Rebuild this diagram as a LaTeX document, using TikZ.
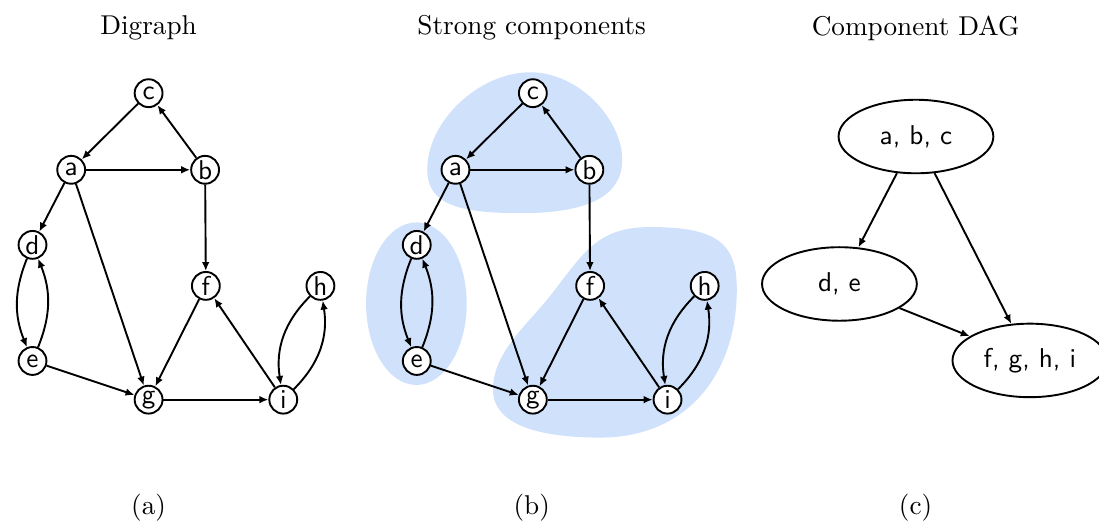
\documentclass[tikz,border=0pt]{standalone}
\usepackage{amsmath}
\usepackage{tikz}
\usetikzlibrary{arrows.meta,shapes.geometric}
\definecolor{sccblue}{RGB}{208,225,251}

\begin{document}
\begin{tikzpicture}[line width=0.7pt, >={Latex[length=3.3pt,width=2.8pt]},
    vertex/.style={circle, draw, fill=white, minimum size=0.36cm, inner sep=0pt, font=\sffamily},
    comp/.style={ellipse, draw, minimum width=2cm, minimum height=0.95cm, inner sep=0pt, font=\sffamily}]
    \useasboundingbox (0,0) rectangle (14.2,6.744);

    % Titles and captions
    \node (titleA) at (1.92,6.38) {Digraph};
    \node (titleB) at (6.87,6.38) {Strong components};
    \node (titleC) at (11.83,6.38) {Component DAG};
    \node (capA) at (1.92,0.18) {(a)};
    \node (capB) at (6.87,0.18) {(b)};
    \node (capC) at (11.83,0.18) {(c)};

    % Digraph (a)
    \node[vertex] (c1) at (1.92,5.54) {c};
    \node[vertex] (a1) at (0.92,4.55) {a};
    \node[vertex] (b1) at (2.65,4.55) {b};
    \node[vertex] (d1) at (0.42,3.58) {d};
    \node[vertex] (f1) at (2.66,3.05) {f};
    \node[vertex] (h1) at (4.14,3.05) {h};
    \node[vertex] (e1) at (0.42,2.08) {e};
    \node[vertex] (g1) at (1.92,1.58) {g};
    \node[vertex] (i1) at (3.66,1.58) {i};
    \draw[->] (c1) -- (a1);
    \draw[->] (a1) -- (b1);
    \draw[->] (b1) -- (c1);
    \draw[->] (a1) -- (d1);
    \draw[->] (a1) -- (g1);
    \draw[->] (b1) -- (f1);
    \draw[->] (d1) to[bend right=22] (e1);
    \draw[->] (e1) to[bend right=22] (d1);
    \draw[->] (e1) -- (g1);
    \draw[->] (f1) -- (g1);
    \draw[->] (g1) -- (i1);
    \draw[->] (i1) -- (f1);
    \draw[->] (h1) to[bend right=27] (i1);
    \draw[->] (i1) to[bend right=27] (h1);

    % Strong components (b)
    % component a, b, c
    \fill[sccblue] (5.52,4.55) .. controls (5.52,5.19) and (6.20,5.81) .. (6.85,5.81)
        .. controls (7.49,5.81) and (8.04,5.19) .. (8.04,4.68)
        .. controls (8.04,4.10) and (7.36,3.99) .. (6.72,3.99)
        .. controls (5.94,3.99) and (5.52,4.10) .. cycle;
    % component d, e
    \fill[sccblue] (5.38,2.82) ellipse (0.65 and 1.05);
    % component f, g, h, i
    \fill[sccblue] (8.40,3.81) .. controls (9.30,3.81) and (9.52,3.58) .. (9.52,3.00)
        .. controls (9.52,1.96) and (8.92,1.09) .. (7.75,1.09)
        .. controls (6.98,1.09) and (6.37,1.25) .. (6.37,1.71)
        .. controls (6.37,2.22) and (6.85,2.57) .. (7.17,3.00)
        .. controls (7.56,3.51) and (7.75,3.81) .. cycle;
    \node[vertex] (c2) at (6.885,5.54) {c};
    \node[vertex] (a2) at (5.885,4.55) {a};
    \node[vertex] (b2) at (7.615,4.55) {b};
    \node[vertex] (d2) at (5.385,3.58) {d};
    \node[vertex] (f2) at (7.625,3.05) {f};
    \node[vertex] (h2) at (9.105,3.05) {h};
    \node[vertex] (e2) at (5.385,2.08) {e};
    \node[vertex] (g2) at (6.885,1.58) {g};
    \node[vertex] (i2) at (8.625,1.58) {i};
    \draw[->] (c2) -- (a2);
    \draw[->] (a2) -- (b2);
    \draw[->] (b2) -- (c2);
    \draw[->] (a2) -- (d2);
    \draw[->] (a2) -- (g2);
    \draw[->] (b2) -- (f2);
    \draw[->] (d2) to[bend right=22] (e2);
    \draw[->] (e2) to[bend right=22] (d2);
    \draw[->] (e2) -- (g2);
    \draw[->] (f2) -- (g2);
    \draw[->] (g2) -- (i2);
    \draw[->] (i2) -- (f2);
    \draw[->] (h2) to[bend right=27] (i2);
    \draw[->] (i2) to[bend right=27] (h2);

    % Component DAG (c)
    \node[comp] (abc) at (11.835,4.98) {a, b, c};
    \node[comp] (de) at (10.846,3.075) {d, e};
    \node[comp] (fghi) at (13.307,2.087) {f, g, h, i};
    \draw[->] (abc) -- (de);
    \draw[->] (abc) -- (fghi);
    \draw[->] (de) -- (fghi);
\end{tikzpicture}
\end{document}
